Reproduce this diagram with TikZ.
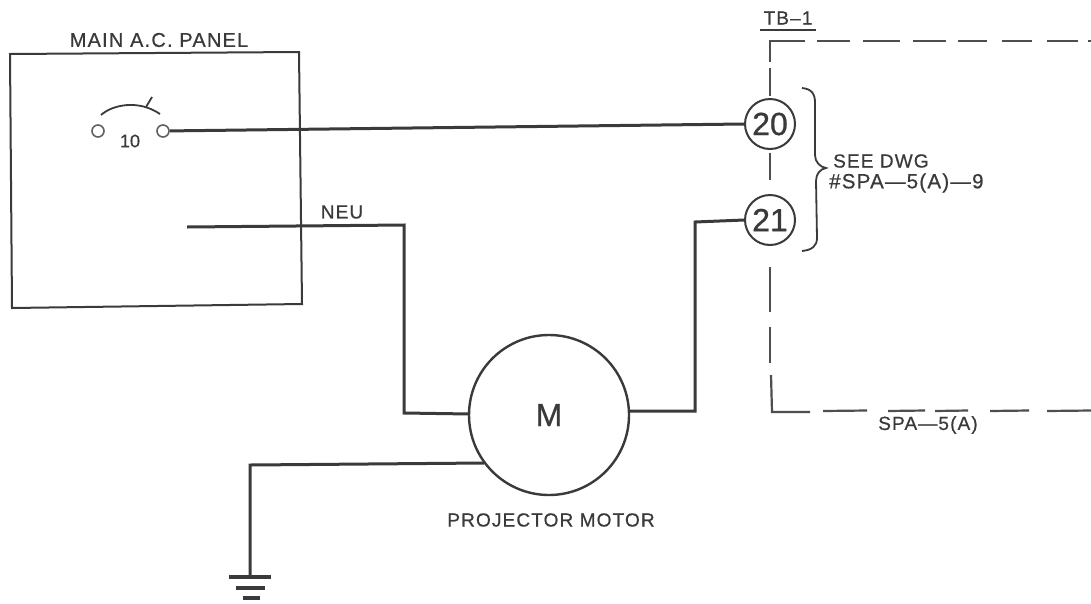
\documentclass[tikz,border=0pt]{standalone}
\usepackage{fontspec}
\setmainfont{Liberation Sans}
\newfontfamily\lbl[LetterSpace=6,FakeBold=0.6]{Liberation Sans}
\newfontfamily\lblbig[FakeBold=0.8]{Liberation Sans}
\definecolor{ink}{HTML}{3A3A3A}
\tikzset{
  thin line/.style={draw=ink,line width=2pt,line join=miter},
  wire/.style={draw=ink,line width=3pt,line join=miter},
  dashseg/.style={draw=ink!90,line width=2.2pt},
  term/.style={circle,draw=ink,line width=2pt,minimum size=50pt,inner sep=0pt,fill=white,text=ink,font=\lblbig\fontsize{32}{32}\selectfont},
  contact/.style={circle,draw=ink!80,line width=1.6pt,minimum size=12pt,inner sep=0pt},
  motor/.style={circle,draw=ink,line width=2.4pt,minimum size=160pt,inner sep=0pt,text=ink,font=\lblbig\fontsize{32}{32}\selectfont},
  lab/.style={text=ink,inner sep=0pt,font=\lbl\fontsize{19}{19}\selectfont},
  fine/.style={draw=ink,line width=1.8pt},
}
\begin{document}
\begin{tikzpicture}[x=1pt,y=-1pt]
\useasboundingbox (0,0) rectangle (1091,603);
\fill[white] (0,0) rectangle (1091,603);
% panel
\draw[thin line] (10,54) -- (299,52) -- (302,304) -- (12,308) -- cycle;
\node[lab,font=\lbl\fontsize{20}{20}\selectfont] (paneltitle) at (159,40) {MAIN A.C. PANEL};
% breaker
\node[contact] (cl) at (98,131) {};
\node[contact] (cr) at (163,131) {};
\node[lab,font=\lblbig\fontsize{18}{18}\selectfont] (amp) at (130,141) {10};
\draw[fine] (101,115) .. controls (112,105) and (138,99) .. (160,114);
\draw[fine] (146,107) -- (152,97);
% terminals
\node[term] (t20) at (770,124) {20};
\node[term] (t21) at (770,220) {21};
\node[motor] (m) at (549,415) {M};
\coordinate (neuend) at (187,227);
\coordinate (gnd) at (250,577);
% wires
\draw[wire] (cr) -- (t20.west);
\draw[wire] (neuend) -- (404,225) -- (404,413) -- (470,414);
\draw[wire] (t21.west) -- (695,222) -- (695,411) -- (630,411);
\draw[wire] (484,463) -- (250,465) -- (gnd);
% ground
\draw[draw=ink,line width=4pt] (229,577) -- (271,577);
\draw[draw=ink,line width=4pt] (236,587.5) -- (265,587.5);
\draw[draw=ink,line width=4pt] (243,598) -- (260,598);
% labels
\node[lab] (neu) at (342,212) {NEU};
\node[lab] (motorname) at (551,520) {PROJECTOR MOTOR};
\node[lab] (tb) at (788,18) {TB–1};
\draw[draw=ink,line width=2.4pt] (760,30) -- (816,30);
\node[lab,anchor=west] (see) at (833,161) {SEE DWG};
\node[lab,anchor=west,font=\lbl\fontsize{20.5}{20.5}\selectfont] (ref) at (829,183) {\#SPA—5(A)—9};
\node[lab] (spa) at (928,425) {SPA—5(A)};
% brace
\draw[fine] (802,88) .. controls (812,89) and (815,94) .. (815,103) -- (815,155) .. controls (815,162) and (820,167) .. (826,168) .. controls (820,169) and (816,174) .. (816,181) -- (817,238) .. controls (817,246) and (812,250) .. (802,251);
% dashed box
\draw[dashseg] (805,41) -- (770,41) -- (770,62);
\foreach \a/\b in {817/850,863/900,913/946,958/987,1002/1032,1047/1078,1088/1091}
  \draw[dashseg] (\a,41) -- (\b,41);
\foreach \a/\b in {68/96,153/180,267/312,327/363}
  \draw[dashseg] (770,\a) -- (770,\b);
\draw[dashseg] (771,375) -- (772,412) -- (810,412);
\foreach \a/\b in {823/867,888/925,935/968,990/1029,1047/1091}
  \draw[dashseg] (\a,411) -- (\b,410.5);
\end{tikzpicture}
\end{document}
